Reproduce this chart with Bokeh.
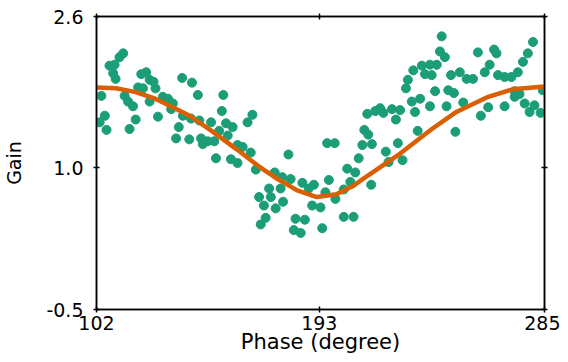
from bokeh.plotting import figure
from bokeh.models import FixedTicker, LinearAxis, Range1d
from bokeh.embed import file_html
from bokeh.resources import INLINE

# measured phase/gain samples
phase = [112.9, 111.4, 107.3, 109.4, 108.8, 109.8, 104.0, 113.5, 114.9, 116.9,
         105.4, 103.3, 106.1, 118.0, 115.5, 120.3, 122.3, 123.7, 125.3, 126.1,
         119.0, 121.0, 123.7, 127.1, 129.1, 131.2, 133.2, 132.5, 137.0, 135.6,
         134.5, 137.3, 141.0, 143.4, 153.8, 153.2, 165.7, 163.7, 140.6, 144.0,
         148.8, 154.9, 157.6, 152.1, 155.6, 139.9, 144.7, 147.4, 150.1, 145.4,
         159.6, 161.7, 165.0, 150.8, 156.9, 159.6, 167.1, 174.8, 172.5, 168.4,
         173.2, 170.4, 175.2, 171.1, 169.1, 177.9, 181.3, 180.4, 196.2, 199.3,
         177.2, 186.1, 190.8, 188.7, 196.9, 195.5, 199.6, 190.1, 193.5, 178.2,
         204.4, 207.7, 205.7, 203.0, 183.3, 187.1, 203.0, 207.0, 182.6, 185.4,
         194.2, 209.1, 210.6, 211.4, 213.0, 212.6, 243.0, 242.3, 244.3, 231.4,
         234.9, 238.2, 241.0, 236.2, 238.9, 229.2, 228.4, 246.8, 240.3, 245.7,
         248.0, 230.8, 234.2, 238.2, 245.0, 232.1, 215.9, 217.9, 219.2, 222.7,
         226.0, 224.3, 233.2, 214.5, 225.1, 220.2, 221.3, 227.0, 214.2, 248.6,
         280.3, 278.2, 257.8, 264.4, 265.4, 276.2, 262.6, 260.6, 266.0, 268.7,
         271.5, 274.1, 250.4, 253.2, 255.8, 251.8, 272.8, 274.8, 272.8, 262.0,
         268.7, 259.0, 276.9, 280.9, 278.9, 283.4, 284.3]
gain = [2.21, 2.17, 2.08, 2.09, 2.00, 1.94, 1.76, 1.76, 1.70, 1.65,
        1.55, 1.48, 1.40, 1.51, 1.41, 1.99, 2.01, 1.93, 1.91, 1.84,
        1.85, 1.84, 1.70, 1.54, 1.75, 1.73, 1.68, 1.62, 1.95, 1.43,
        1.31, 1.55, 1.90, 1.77, 1.77, 1.60, 1.56, 1.48, 1.52, 1.50,
        1.48, 1.47, 1.43, 1.39, 1.34, 1.30, 1.31, 1.28, 1.28, 1.25,
        1.24, 1.22, 1.16, 1.10, 1.09, 1.05, 0.98, 0.95, 0.78, 0.69,
        0.69, 0.60, 0.57, 0.47, 0.40, 0.90, 0.88, 1.14, 1.26, 1.26,
        0.78, 0.84, 0.82, 0.78, 0.87, 0.74, 0.67, 0.60, 0.58, 0.64,
        0.99, 0.95, 0.85, 0.77, 0.46, 0.45, 0.48, 0.48, 0.34, 0.31,
        0.36, 1.10, 1.24, 1.40, 1.35, 1.57, 2.39, 2.23, 2.17, 2.03,
        2.08, 2.09, 2.09, 1.99, 1.98, 1.93, 1.84, 1.98, 1.81, 1.82,
        1.79, 1.70, 1.73, 1.65, 1.65, 1.59, 1.60, 1.63, 1.58, 1.62,
        1.61, 1.51, 1.39, 1.25, 1.26, 1.17, 1.06, 1.08, 0.82, 1.38,
        2.33, 2.21, 2.22, 2.25, 2.21, 2.12, 2.09, 2.01, 1.98, 1.96,
        1.96, 2.01, 2.01, 1.94, 1.94, 1.69, 1.81, 1.78, 1.75, 1.64,
        1.65, 1.55, 1.68, 1.66, 1.59, 1.58, 1.82]

# fitted curve
fit_phase = [102, 110, 118, 126, 134, 140, 149, 159, 168, 176, 184, 192,
             200, 207, 213, 225, 239, 249, 262, 272, 285]
fit_gain = [1.85, 1.84, 1.80, 1.73, 1.63, 1.55, 1.39, 1.20, 1.02, 0.88, 0.76,
            0.69, 0.72, 0.81, 0.92, 1.13, 1.41, 1.59, 1.75, 1.83, 1.86]

x_ticks = [102, 193, 285]
y_ticks = [-0.5, 1.0, 2.6]
y_tick_labels = {-0.5: "-0.5", 1.0: "1.0", 2.6: "2.6"}

FONT = "DejaVu Sans"
GREEN = "#1b9e77"
ORANGE = "#d95f02"

p = figure(width=560, height=358,
           x_range=Range1d(102, 285), y_range=Range1d(-0.5, 2.6),
           output_backend="svg", toolbar_location=None,
           min_border_left=94, min_border_top=16, min_border_right=16,
           min_border_bottom=49)
p.grid.visible = False
p.outline_line_color = "black"
p.outline_line_width = 1.5
p.background_fill_color = "white"
p.border_fill_color = "white"

p.scatter(phase, gain, size=9, fill_color=GREEN, line_color=GREEN)
p.line(fit_phase, fit_gain, line_color=ORANGE, line_width=4.5)

for ax in (p.xaxis[0], p.yaxis[0]):
    ax.major_tick_in = 3
    ax.major_tick_out = 3
    ax.minor_tick_line_color = None
    ax.axis_line_width = 1.5
    ax.major_tick_line_width = 1.5
    ax.major_label_text_font = FONT
    ax.major_label_text_font_size = "19px"
    ax.major_label_text_color = "black"
    ax.axis_label_text_font = FONT
    ax.axis_label_text_font_style = "normal"
    ax.axis_label_text_color = "black"

p.xaxis.ticker = FixedTicker(ticks=x_ticks)
p.xaxis.axis_label = "Phase (degree)"
p.xaxis.axis_label_text_font_size = "21px"
p.xaxis.major_label_standoff = 3
p.xaxis.axis_label_standoff = -3

p.yaxis.ticker = FixedTicker(ticks=y_ticks)
p.yaxis.major_label_overrides = y_tick_labels
p.yaxis.axis_label = "Gain"
p.yaxis.axis_label_text_font_size = "19px"
p.yaxis.major_label_standoff = 10
p.yaxis.axis_label_standoff = 18

top = LinearAxis(ticker=FixedTicker(ticks=x_ticks), major_label_text_font_size="1px",
                 major_label_text_color=None,
                 major_label_standoff=0, major_tick_in=3, major_tick_out=3,
                 minor_tick_line_color=None, axis_line_width=1.5, major_tick_line_width=1.5)
right = LinearAxis(ticker=FixedTicker(ticks=y_ticks), major_label_text_font_size="1px",
                   major_label_text_color=None,
                   major_label_standoff=0, major_tick_in=3, major_tick_out=3,
                   minor_tick_line_color=None, axis_line_width=1.5, major_tick_line_width=1.5)
p.add_layout(top, "above")
p.add_layout(right, "right")

open("out.html", "w").write(file_html(p, INLINE))
